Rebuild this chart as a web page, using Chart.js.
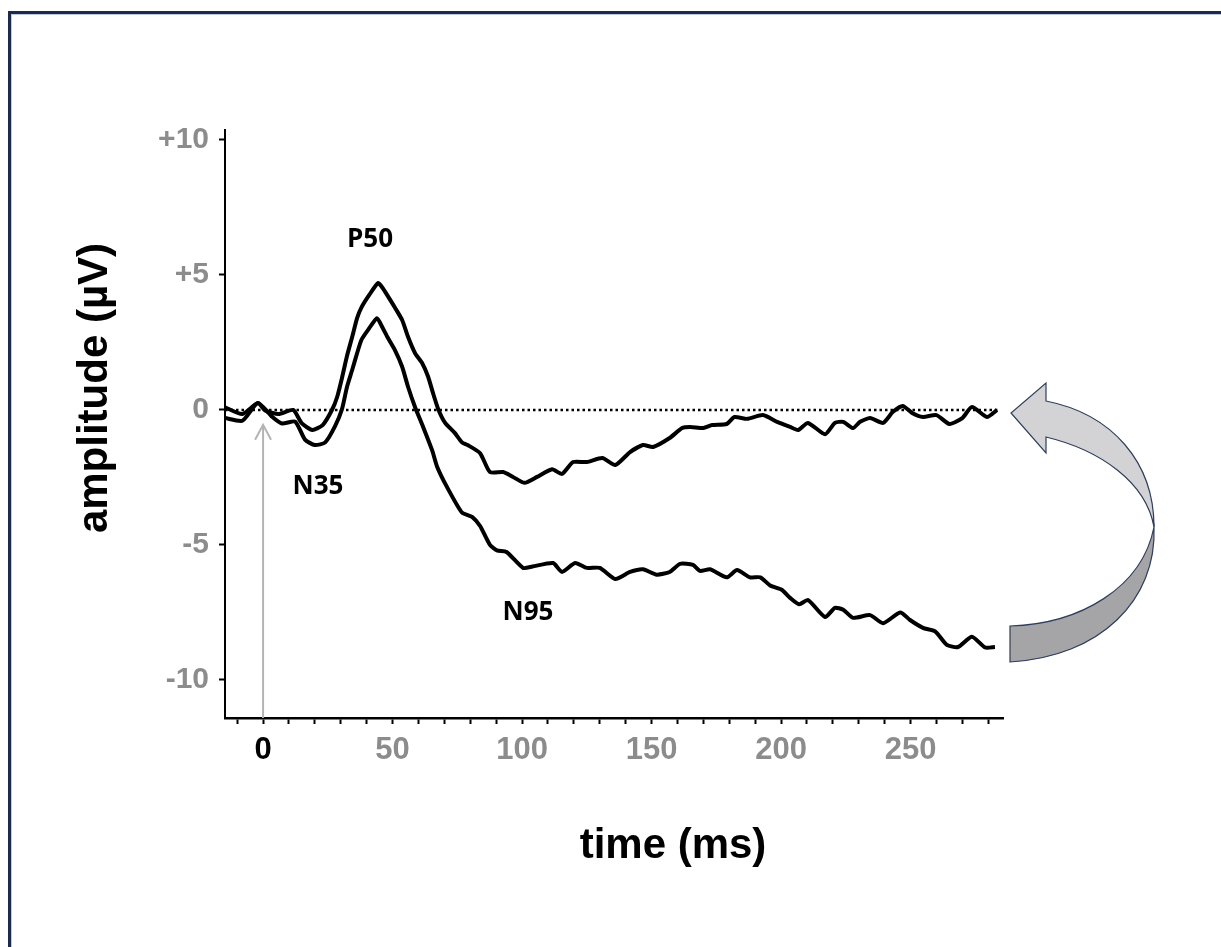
<!DOCTYPE html>
<html>
<head>
<meta charset="utf-8">
<script src="https://cdn.jsdelivr.net/npm/chart.js@4/dist/chart.umd.min.js"></script>
<style>
   html, body { margin: 0; padding: 0; background: #fff; overflow: hidden; }
   #frame {
      position: absolute; left: 8px; top: 11px; width: 1220px; height: 940px;
      border-top: 3px solid #1c2b4b; border-left: 3px solid #1c2b4b;
      box-shadow: inset 1px 1px 0 #c3c9dc;
   }
   #wrap { position: absolute; left: 0; top: 0; width: 1221px; height: 947px; }
</style>
</head>
<body>
<div id="frame"></div>
<div id="wrap"><canvas id="erp" width="1221" height="947"></canvas></div>
<script>
// upper trace (returns to baseline)
var upperTime = [-14.7, -8, -2, 0.8, 6, 11.6, 15, 19, 23, 26.6, 28.6, 30.5, 32.4, 34.4, 36.3, 38, 41, 44.4, 46.3, 48.3,
   51, 53.7, 56, 58.7, 61.4, 63.7, 65.6, 67.6, 70.3, 74, 76.8, 79, 83.8, 87.6, 92.7, 96.5, 101, 105.8, 111.6, 115.4,
   119.7, 125, 131, 136, 141.7, 146.7, 150.6, 157, 161.8, 164.9, 170, 173.4, 179, 182, 186.9, 193, 198.5, 203.5, 206.6, 210.4,
   217, 220.8, 224, 227.8, 230.5, 234.4, 239.4, 243.2, 247, 250.6, 254.8, 260, 265, 270, 273.7, 279.5, 283.4];
var upperAmp = [0.1, -0.15, 0.26, -0.02, -0.15, 0.0, -0.5, -0.74, -0.56, 0.0, 0.48, 1.2, 2.0, 2.7, 3.4, 3.8, 4.26, 4.7, 4.5, 4.2,
   3.78, 3.33, 2.7, 2.1, 1.74, 1.24, 0.63, 0.04, -0.48, -0.85, -1.2, -1.3, -1.6, -2.3, -2.3, -2.48, -2.7, -2.48, -2.2, -2.37,
   -1.93, -1.93, -1.78, -2.04, -1.56, -1.3, -1.37, -1.04, -0.67, -0.63, -0.67, -0.56, -0.52, -0.26, -0.33, -0.19, -0.44, -0.63, -0.74, -0.48,
   -0.9, -0.48, -0.44, -0.67, -0.44, -0.3, -0.48, -0.07, 0.15, -0.11, -0.26, -0.19, -0.52, -0.3, 0.11, -0.26, 0.0];

// lower trace (stays negative)
var lowerTime = [-14.7, -8, -2, 3.5, 7.3, 12.4, 16.2, 20, 24, 27.8, 30.5, 32.4, 34.4, 36.3, 38, 40.5, 44, 46, 48, 51,
   53.7, 56, 58.7, 61.8, 65.3, 67.2, 71, 76.8, 80.7, 83.8, 87.6, 90.3, 94, 100.4, 104, 112, 115.4, 120.5, 125, 130,
   136, 141.7, 146.7, 152, 157, 161, 166, 168.7, 172.6, 179, 183, 188, 192, 195.8, 200.4, 203.5, 207, 210.4, 217, 220.8,
   224, 227.8, 234.4, 239.4, 246, 249.8, 254.8, 259.5, 264, 268.3, 273.7, 278.8, 282.6];
var lowerAmp = [-0.3, -0.4, 0.26, -0.25, -0.5, -0.43, -1.1, -1.3, -1.2, -0.6, 0.04, 0.85, 1.48, 2.1, 2.6, 2.96, 3.4, 3.07, 2.7, 2.2,
   1.6, 0.85, 0.1, -0.63, -1.5, -2.1, -2.85, -3.8, -3.96, -4.3, -5.0, -5.2, -5.26, -5.85, -5.8, -5.67, -6.0, -5.67, -5.85, -5.85,
   -6.26, -6.0, -5.9, -6.1, -6.0, -5.7, -5.74, -5.96, -5.9, -6.2, -5.93, -6.2, -6.2, -6.5, -6.67, -6.96, -7.2, -7.04, -7.67, -7.33,
   -7.4, -7.7, -7.6, -7.9, -7.5, -7.78, -8.07, -8.2, -8.7, -8.78, -8.4, -8.8, -8.78];

var baselineTime = [-14.7, 283.5];
var baselineAmp = [0, 0];

var xTickValues = [-10, 0, 10, 20, 30, 40, 50, 60, 70, 80, 90, 100, 110, 120, 130, 140, 150, 160, 170, 180, 190, 200,
   210, 220, 230, 240, 250, 260, 270, 280];
var xLabelValues = [0, 50, 100, 150, 200, 250];
var yTickValues = [-10, -5, 0, 5, 10];
var yTickLabels = ['-10', '-5', '0', '+5', '+10'];

var peakNames = ['P50', 'N35', 'N95'];
var peakTime = [41.3, 21.2, 102.3];
var peakAmp = [6.3, -2.85, -7.5];

var stimTime = 0;
var stimTipAmp = -0.55;

var GREY = '#8c8c8c';

function toPoints(xs, ys) {
   var pts = [];
   for (var i = 0; i < xs.length; i++) pts.push({ x: xs[i], y: ys[i] });
   return pts;
}

var decorations = {
   id: 'decorations',
   beforeDatasetsDraw: function(chart) {
      // grey stimulus arrow at t = 0
      var ctx = chart.ctx, x = chart.scales.x.getPixelForValue(stimTime);
      var yTip = chart.scales.y.getPixelForValue(stimTipAmp);
      ctx.save();
      ctx.strokeStyle = '#b4b4b4';
      ctx.lineWidth = 2;
      ctx.beginPath();
      ctx.moveTo(x, chart.chartArea.bottom);
      ctx.lineTo(x, yTip);
      ctx.moveTo(x - 8, yTip + 15);
      ctx.lineTo(x, yTip);
      ctx.lineTo(x + 8, yTip + 15);
      ctx.stroke();
      ctx.restore();
   },
   afterDraw: function(chart) {
      var ctx = chart.ctx, xs = chart.scales.x, ys = chart.scales.y;
      ctx.save();
      ctx.fillStyle = '#000';
      ctx.textAlign = 'center';
      ctx.textBaseline = 'middle';
      ctx.font = 'bold 26px "Open Sans"';
      for (var i = 0; i < peakNames.length; i++) {
         ctx.fillText(peakNames[i], xs.getPixelForValue(peakTime[i]), ys.getPixelForValue(peakAmp[i]));
      }

      // axis titles
      ctx.font = 'bold 42px "Liberation Sans"';
      ctx.fillText('time (ms)', 673, 846);
      ctx.save();
      ctx.translate(95, 388);
      ctx.rotate(-Math.PI / 2);
      ctx.fillText('amplitude (\u00b5V)', 0, 0);
      ctx.restore();

      // curved return arrow on the right
      ctx.lineWidth = 1.2;
      ctx.strokeStyle = '#2f3d5c';
      ctx.fillStyle = '#a5a5a7';
      ctx.beginPath();
      ctx.moveTo(1154, 527);
      ctx.bezierCurveTo(1157, 600, 1100, 657, 1010, 662);
      ctx.lineTo(1010, 626);
      ctx.bezierCurveTo(1080, 624, 1142, 588, 1154, 527);
      ctx.closePath();
      ctx.fill();
      ctx.stroke();

      ctx.fillStyle = '#d3d3d5';
      ctx.beginPath();
      ctx.moveTo(1154, 527);
      ctx.bezierCurveTo(1154, 462, 1112, 414, 1046, 401);
      ctx.lineTo(1046, 383);
      ctx.lineTo(1011, 413);
      ctx.lineTo(1046, 453);
      ctx.lineTo(1046, 437);
      ctx.bezierCurveTo(1100, 450, 1146, 482, 1154, 527);
      ctx.closePath();
      ctx.fill();
      ctx.stroke();
      ctx.restore();
   }
};

new Chart(document.getElementById('erp'), {
   type: 'line',
   data: {
      datasets: [
         {
            data: toPoints(baselineTime, baselineAmp),
            borderColor: '#000',
            borderWidth: 2.5,
            borderDash: [2.5, 3],
            pointRadius: 0
         },
         {
            data: toPoints(upperTime, upperAmp),
            borderColor: '#000',
            borderWidth: 4,
            pointRadius: 0,
            tension: 0.2,
            borderJoinStyle: 'round'
         },
         {
            data: toPoints(lowerTime, lowerAmp),
            borderColor: '#000',
            borderWidth: 4,
            pointRadius: 0,
            tension: 0.2,
            borderJoinStyle: 'round'
         }
      ]
   },
   options: {
      responsive: false,
      animation: false,
      devicePixelRatio: 1,
      layout: { padding: { top: 130, left: 0, right: 218, bottom: 0 } },
      plugins: { legend: { display: false }, tooltip: { enabled: false } },
      scales: {
         x: {
            type: 'linear',
            min: -14.7,
            max: 285.7,
            afterFit: function(scale) { scale.height = 229; },
            afterBuildTicks: function(axis) {
               axis.ticks = xTickValues.map(function(v) { return { value: v }; });
            },
            border: { display: true, color: '#000', width: 2.5 },
            grid: { drawOnChartArea: false, drawTicks: true, tickLength: 6, tickWidth: 2, tickColor: '#000' },
            ticks: {
               autoSkip: false,
               maxRotation: 0,
               padding: 8,
               font: { family: 'Liberation Sans', weight: 'bold', size: 31 },
               color: function(c) { return c.tick && c.tick.value === 0 ? '#000' : GREY; },
               callback: function(v) { return xLabelValues.indexOf(v) >= 0 ? String(v) : ''; }
            }
         },
         y: {
            type: 'linear',
            min: -11.41,
            max: 10.37,
            afterFit: function(scale) { scale.width = 225; },
            afterBuildTicks: function(axis) {
               axis.ticks = yTickValues.map(function(v) { return { value: v }; });
            },
            border: { display: true, color: '#000', width: 2 },
            grid: { drawOnChartArea: false, drawTicks: true, tickLength: 6, tickWidth: 2, tickColor: '#000' },
            ticks: {
               padding: 10,
               font: { family: 'Liberation Sans', weight: 'bold', size: 30 },
               color: GREY,
               callback: function(v) { return yTickLabels[yTickValues.indexOf(v)]; }
            }
         }
      }
   },
   plugins: [decorations]
});
</script>
</body>
</html>
